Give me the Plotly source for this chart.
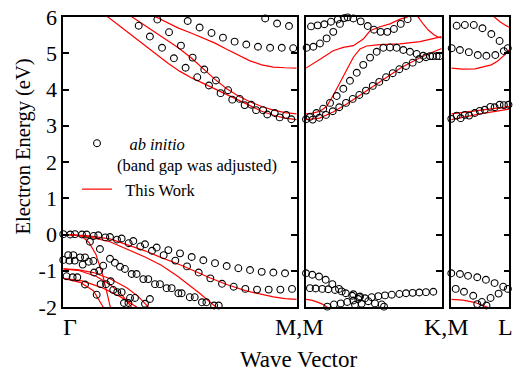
import plotly.graph_objects as go

# ---------------- data: Gamma -> M (panel 1, k normalised 0..1) ----------------
gm_ai_a_k = [0.533, 0.584, 0.635, 0.684, 0.734, 0.784, 0.834, 0.886, 0.936, 0.985]
gm_ai_a_e = [5.89, 5.71, 5.56, 5.43, 5.32, 5.24, 5.18, 5.15, 5.15, 5.14]
gm_ai_b_k = [0.865, 0.916, 0.967]
gm_ai_b_e = [5.96, 5.82, 5.75]
gm_ai_c_k = [0.323, 0.371, 0.423, 0.474, 0.524, 0.574, 0.624, 0.674, 0.724, 0.777, 0.826, 0.874, 0.927, 0.977]
gm_ai_c_e = [5.76, 5.46, 5.15, 4.86, 4.60, 4.34, 4.11, 3.90, 3.72, 3.57, 3.43, 3.31, 3.23, 3.18]
gm_ai_d_k = [0.403, 0.453, 0.504, 0.554, 0.604, 0.654, 0.706, 0.756, 0.805, 0.856, 0.906, 0.955]
gm_ai_d_e = [5.93, 5.58, 5.21, 4.88, 4.55, 4.25, 3.98, 3.74, 3.58, 3.43, 3.35, 3.30]
gm_ai_v1_k = [0.0, 0.05, 0.1, 0.15, 0.2, 0.25, 0.3, 0.35, 0.4, 0.45, 0.5, 0.55, 0.6, 0.65, 0.7, 0.75, 0.8, 0.85, 0.9, 0.95]
gm_ai_v1_e = [0.01, 0.01, 0.0, -0.02, -0.07, -0.11, -0.18, -0.27, -0.36, -0.43, -0.52, -0.62, -0.71, -0.79, -0.87, -0.93, -0.98, -1.03, -1.05, -1.07]
gm_ai_v2_k = [0.03, 0.08, 0.13, 0.18, 0.23, 0.28, 0.33, 0.38, 0.43, 0.48, 0.53, 0.58, 0.63, 0.68, 0.73, 0.78, 0.83, 0.88, 0.93, 0.98]
gm_ai_v2_e = [0.0, 0.0, -0.04, -0.08, -0.14, -0.24, -0.33, -0.45, -0.57, -0.72, -0.88, -1.05, -1.21, -1.36, -1.44, -1.50, -1.52, -1.52, -1.52, -1.50]
gm_ai_v3_k = [0.114, 0.157, 0.2, 0.243, 0.293, 0.343, 0.393, 0.443, 0.493, 0.542, 0.594, 0.646]
gm_ai_v3_e = [-0.20, -0.40, -0.67, -0.89, -1.09, -1.23, -1.37, -1.48, -1.62, -1.73, -1.87, -1.96]
gm_ai_v4_k = [0.221, 0.264, 0.314, 0.364, 0.414, 0.464, 0.507, 0.563, 0.613, 0.666]
gm_ai_v4_e = [-0.78, -0.95, -1.09, -1.23, -1.37, -1.48, -1.62, -1.73, -1.87, -1.96]
gm_ai_v5_k = [0.021, 0.043, 0.072, 0.093, 0.129, 0.171]
gm_ai_v5_e = [-0.57, -0.57, -0.63, -0.63, -0.73, -0.86]
gm_ai_v6_k = [0.0, 0.026, 0.049, 0.083, 0.109, 0.132, 0.154]
gm_ai_v6_e = [-0.70, -0.72, -0.72, -0.83, -0.75, -1.05, -1.00]
gm_ai_v7_k = [0.014, 0.04, 0.06, 0.093, 0.143]
gm_ai_v7_e = [-1.15, -1.18, -1.18, -1.38, -1.66]
gm_ai_v8_k = [0.16, 0.183, 0.203, 0.214, 0.231, 0.25, 0.26, 0.279, 0.286, 0.307, 0.35, 0.371]
gm_ai_v8_e = [-1.37, -1.37, -1.29, -1.53, -1.59, -1.59, -1.89, -1.89, -1.75, -1.75, -1.91, -1.78]

gm_tw_c1_k = [0.15, 0.193, 0.25, 0.3, 0.35, 0.4, 0.45, 0.5, 0.55, 0.6, 0.65, 0.7, 0.75, 0.8, 0.85, 0.9, 0.95, 1.0]
gm_tw_c1_e = [6.18, 5.99, 5.71, 5.46, 5.20, 4.95, 4.72, 4.50, 4.32, 4.17, 4.02, 3.86, 3.71, 3.55, 3.40, 3.29, 3.21, 3.17]
gm_tw_c2_k = [0.26, 0.297, 0.35, 0.4, 0.45, 0.491, 0.55, 0.6, 0.65, 0.7, 0.75, 0.8, 0.85, 0.9, 0.95, 1.0]
gm_tw_c2_e = [6.15, 5.99, 5.77, 5.55, 5.34, 5.16, 4.86, 4.56, 4.28, 4.02, 3.82, 3.66, 3.53, 3.43, 3.36, 3.33]
gm_tw_c3_k = [0.36, 0.4, 0.45, 0.491, 0.55, 0.6, 0.65, 0.7, 0.75, 0.8, 0.85, 0.9, 0.95, 1.0]
gm_tw_c3_e = [6.12, 5.99, 5.84, 5.70, 5.55, 5.42, 5.28, 5.11, 4.94, 4.79, 4.68, 4.62, 4.60, 4.59]
gm_tw_va_k = [0.0, 0.1, 0.2, 0.27, 0.35, 0.41, 0.51, 0.63, 0.7, 0.78, 0.85, 0.9, 0.95, 1.0]
gm_tw_va_e = [0.0, -0.03, -0.12, -0.27, -0.45, -0.61, -0.86, -1.20, -1.38, -1.55, -1.66, -1.72, -1.77, -1.79]
gm_tw_vb_k = [0.0, 0.1, 0.2, 0.27, 0.35, 0.42, 0.49, 0.58, 0.655, 0.7]
gm_tw_vb_e = [0.0, -0.05, -0.20, -0.40, -0.62, -0.85, -1.15, -1.60, -2.0, -2.25]
gm_tw_vc_k = [0.0, 0.05, 0.08, 0.11, 0.14, 0.17, 0.2, 0.21]
gm_tw_vc_e = [0.0, -0.01, -0.05, -0.22, -0.55, -1.15, -1.96, -2.25]
gm_tw_vd1_k = [0.0, 0.06, 0.129, 0.2, 0.27, 0.32, 0.364, 0.38]
gm_tw_vd1_e = [-0.95, -0.97, -1.05, -1.22, -1.46, -1.70, -2.0, -2.12]
gm_tw_vd2_k = [0.0, 0.07, 0.14, 0.2, 0.25, 0.293, 0.31]
gm_tw_vd2_e = [-0.95, -1.0, -1.15, -1.38, -1.65, -2.0, -2.15]
gm_tw_ve1_k = [0.0, 0.072, 0.129, 0.171, 0.18]
gm_tw_ve1_e = [-1.21, -1.32, -1.55, -2.0, -2.1]
gm_tw_ve2_k = [0.0, 0.08, 0.16, 0.24, 0.314, 0.33]
gm_tw_ve2_e = [-1.21, -1.28, -1.45, -1.70, -2.0, -2.1]

# ---------------- data: M -> K (panel 2) ----------------
mk_ai_a_k = [0.037, 0.086, 0.135, 0.184, 0.234, 0.282, 0.349, 0.403, 0.455, 0.501, 0.55, 0.599, 0.648, 0.698, 0.749]
mk_ai_a_e = [5.74, 5.77, 5.80, 5.87, 5.93, 5.97, 5.96, 5.88, 5.75, 5.65, 5.59, 5.59, 5.67, 5.81, 5.94]
mk_ai_b_k = [0.005, 0.054, 0.103, 0.152, 0.201, 0.25, 0.307]
mk_ai_b_e = [5.15, 5.18, 5.27, 5.41, 5.59, 5.81, 5.99]
mk_ai_c_k = [0.028, 0.077, 0.127, 0.177, 0.226, 0.275, 0.324, 0.374, 0.422, 0.472, 0.521, 0.57, 0.619, 0.668, 0.717, 0.766, 0.816, 0.864, 0.914, 0.963]
mk_ai_c_e = [3.24, 3.35, 3.47, 3.63, 3.82, 4.02, 4.24, 4.46, 4.68, 4.88, 5.04, 5.15, 5.16, 5.15, 5.09, 5.04, 4.98, 4.93, 4.92, 4.92]
mk_ai_d_k = [0.0, 0.049, 0.098, 0.147, 0.197, 0.245, 0.295, 0.344, 0.393, 0.442, 0.492, 0.54, 0.59, 0.639, 0.688, 0.737, 0.786, 0.835, 0.884, 0.934, 0.983]
mk_ai_d_e = [3.18, 3.17, 3.22, 3.30, 3.40, 3.51, 3.63, 3.74, 3.85, 3.97, 4.10, 4.21, 4.34, 4.45, 4.56, 4.65, 4.74, 4.84, 4.89, 4.92, 4.92]
mk_ai_v1_k = [0.0, 0.046, 0.096, 0.145, 0.194, 0.243, 0.293, 0.341, 0.391]
mk_ai_v1_e = [-1.07, -1.11, -1.16, -1.25, -1.37, -1.50, -1.62, -1.69, -1.73]
mk_ai_v2_k = [0.029, 0.071, 0.12, 0.164, 0.214, 0.263, 0.349, 0.398, 0.435, 0.484, 0.533, 0.582, 0.632, 0.688, 0.737, 0.786, 0.835, 0.884, 0.938]
mk_ai_v2_e = [-1.48, -1.49, -1.50, -1.51, -1.53, -1.57, -1.65, -1.71, -1.76, -1.73, -1.70, -1.68, -1.66, -1.64, -1.62, -1.61, -1.60, -1.59, -1.58]
mk_ai_v3_k = [0.157, 0.206, 0.256, 0.304, 0.349, 0.361, 0.385, 0.41, 0.459, 0.508, 0.558, 0.575]
mk_ai_v3_e = [-1.99, -1.93, -1.90, -1.86, -1.82, -1.94, -1.78, -1.91, -1.84, -1.90, -1.93, -1.99]

mk_tw_c1_k = [0.0, 0.1, 0.2, 0.3, 0.4, 0.5, 0.6, 0.7, 0.8, 0.9, 1.0]
mk_tw_c1_e = [3.17, 3.21, 3.38, 3.60, 3.85, 4.10, 4.36, 4.60, 4.80, 4.98, 5.13]
mk_tw_c2_k = [0.0, 0.05, 0.103, 0.152, 0.201, 0.25, 0.3, 0.349, 0.398, 0.447, 0.545, 0.693, 0.84, 0.975, 1.0]
mk_tw_c2_e = [3.33, 3.35, 3.40, 3.53, 3.84, 4.18, 4.52, 4.89, 5.12, 5.20, 5.24, 5.26, 5.32, 5.44, 5.46]
mk_tw_c3_k = [0.0, 0.054, 0.127, 0.2, 0.275, 0.349, 0.422, 0.472, 0.545, 0.619, 0.693, 0.742, 0.78]
mk_tw_c3_e = [4.59, 4.71, 4.89, 5.07, 5.16, 5.21, 5.39, 5.62, 5.73, 5.81, 5.94, 5.99, 6.10]
mk_tw_c4_k = [0.8, 0.828, 0.865, 0.901, 0.94, 0.975, 1.0]
mk_tw_c4_e = [6.08, 5.99, 5.80, 5.64, 5.52, 5.44, 5.42]
mk_tw_v_k = [0.0, 0.04, 0.08, 0.12, 0.155, 0.19]
mk_tw_v_e = [-1.79, -1.81, -1.86, -1.92, -2.0, -2.1]

# ---------------- data: M -> L (panel 3) ----------------
ml_ai_a_k = [0.093, 0.235, 0.39, 0.54, 0.694, 0.837, 0.979]
ml_ai_a_e = [5.76, 5.78, 5.78, 5.69, 5.53, 5.34, 5.14]
ml_ai_b_k = [0.007, 0.149, 0.304, 0.459, 0.608, 0.763, 0.911]
ml_ai_b_e = [5.14, 5.09, 5.03, 4.95, 4.93, 4.95, 5.06]
ml_ai_c_k = [0.0, 0.162, 0.309, 0.407, 0.579, 0.751, 0.911]
ml_ai_c_e = [3.19, 3.21, 3.28, 3.35, 3.44, 3.51, 3.57]
ml_ai_d_k = [0.093, 0.235, 0.493, 0.677, 0.837, 0.991]
ml_ai_d_e = [3.28, 3.30, 3.41, 3.52, 3.58, 3.58]
ml_ai_v1_k = [0.0, 0.15, 0.29, 0.45, 0.6, 0.75, 0.9, 0.98]
ml_ai_v1_e = [-1.07, -1.09, -1.14, -1.18, -1.25, -1.34, -1.44, -1.50]
ml_ai_v2_k = [0.076, 0.22, 0.38, 0.53, 0.61]
ml_ai_v2_e = [-1.50, -1.58, -1.69, -1.86, -1.96]
ml_ai_v3_k = [0.45, 0.68, 0.82]
ml_ai_v3_e = [-1.92, -1.75, -1.63]

ml_tw_c1_k = [0.0, 0.2, 0.41, 0.55, 0.694, 0.8, 0.866, 0.93, 1.0]
ml_tw_c1_e = [4.59, 4.56, 4.57, 4.62, 4.68, 4.78, 4.86, 4.96, 5.09]
ml_tw_c2_k = [0.7, 0.751, 0.85, 0.93, 1.0]
ml_tw_c2_e = [6.06, 5.99, 5.86, 5.78, 5.72]
ml_tw_c3_k = [0.0, 0.5, 1.0]
ml_tw_c3_e = [3.17, 3.33, 3.46]
ml_tw_c4_k = [0.0, 0.5, 1.0]
ml_tw_c4_e = [3.33, 3.43, 3.53]
ml_tw_v_k = [0.0, 0.2, 0.4, 0.6, 0.7]
ml_tw_v_e = [-1.79, -1.81, -1.87, -1.98, -2.05]

y_ticks = [-2, -1, 0, 1, 2, 3, 4, 5, 6]
y_tick_text = ["-2", "-1", "0", "1", "2", "3", "4", "5", "6"]
k_labels = ["\u0393", "M,M", "K,M", "L"]

# ---------------- figure ----------------
W, H = 513, 372
ML, MR, MT, MB = 63, 3, 17, 65
PW, PH = W - ML - MR, H - MT - MB
FONT = "Liberation Serif"


def px_x(p):
    return (p - ML) / PW


def px_y(p):
    return (H - MB - p) / PH


panels = {
    1: dict(ai=[(gm_ai_a_k, gm_ai_a_e), (gm_ai_b_k, gm_ai_b_e), (gm_ai_c_k, gm_ai_c_e), (gm_ai_d_k, gm_ai_d_e),
                (gm_ai_v1_k, gm_ai_v1_e), (gm_ai_v2_k, gm_ai_v2_e), (gm_ai_v3_k, gm_ai_v3_e), (gm_ai_v4_k, gm_ai_v4_e),
                (gm_ai_v5_k, gm_ai_v5_e), (gm_ai_v6_k, gm_ai_v6_e), (gm_ai_v7_k, gm_ai_v7_e), (gm_ai_v8_k, gm_ai_v8_e)],
            tw=[(gm_tw_c1_k, gm_tw_c1_e), (gm_tw_c2_k, gm_tw_c2_e), (gm_tw_c3_k, gm_tw_c3_e),
                (gm_tw_va_k, gm_tw_va_e), (gm_tw_vb_k, gm_tw_vb_e), (gm_tw_vc_k, gm_tw_vc_e),
                (gm_tw_vd1_k, gm_tw_vd1_e), (gm_tw_vd2_k, gm_tw_vd2_e), (gm_tw_ve1_k, gm_tw_ve1_e), (gm_tw_ve2_k, gm_tw_ve2_e)]),
    2: dict(ai=[(mk_ai_a_k, mk_ai_a_e), (mk_ai_b_k, mk_ai_b_e), (mk_ai_c_k, mk_ai_c_e), (mk_ai_d_k, mk_ai_d_e),
                (mk_ai_v1_k, mk_ai_v1_e), (mk_ai_v2_k, mk_ai_v2_e), (mk_ai_v3_k, mk_ai_v3_e)],
            tw=[(mk_tw_c1_k, mk_tw_c1_e), (mk_tw_c2_k, mk_tw_c2_e), (mk_tw_c3_k, mk_tw_c3_e), (mk_tw_c4_k, mk_tw_c4_e),
                (mk_tw_v_k, mk_tw_v_e)]),
    3: dict(ai=[(ml_ai_a_k, ml_ai_a_e), (ml_ai_b_k, ml_ai_b_e), (ml_ai_c_k, ml_ai_c_e), (ml_ai_d_k, ml_ai_d_e),
                (ml_ai_v1_k, ml_ai_v1_e), (ml_ai_v2_k, ml_ai_v2_e), (ml_ai_v3_k, ml_ai_v3_e)],
            tw=[(ml_tw_c1_k, ml_tw_c1_e), (ml_tw_c2_k, ml_tw_c2_e), (ml_tw_c3_k, ml_tw_c3_e), (ml_tw_c4_k, ml_tw_c4_e),
                (ml_tw_v_k, ml_tw_v_e)]),
}

fig = go.Figure()
first_ai, first_tw = True, True
for p in (1, 2, 3):
    xa = "x" if p == 1 else f"x{p}"
    ya = "y" if p == 1 else f"y{p}"
    for k, e in panels[p]["tw"]:
        fig.add_trace(go.Scatter(x=k, y=e, mode="lines", xaxis=xa, yaxis=ya,
                                 line=dict(color="#ff0000", width=1.2),
                                 name="\u00a0\u00a0This Work", legendrank=2,
                                 showlegend=first_tw, hoverinfo="skip"))
        first_tw = False
    for k, e in panels[p]["ai"]:
        fig.add_trace(go.Scatter(x=k, y=e, mode="markers", xaxis=xa, yaxis=ya, cliponaxis=False,
                                 marker=dict(symbol="circle-open", size=6.8, color="black",
                                             line=dict(width=1.1, color="black")),
                                 name="\u00a0\u00a0\u00a0<i>ab initio</i><br>(band gap was adjusted)",
                                 legendrank=1, showlegend=first_ai, hoverinfo="skip"))
        first_ai = False

doms = {1: (63.3, 296.7), 2: (306.0, 441.7), 3: (451.3, 509.0)}
for p in (1, 2, 3):
    d = [px_x(doms[p][0]), px_x(doms[p][1])]
    xkey = "xaxis" if p == 1 else f"xaxis{p}"
    ykey = "yaxis" if p == 1 else f"yaxis{p}"
    fig.layout[xkey] = dict(domain=d, range=[0, 1], showline=True, mirror=True, linecolor="black",
                            linewidth=2, ticks="", showticklabels=False, showgrid=False, zeroline=False,
                            fixedrange=True)
    yconf = dict(range=[-2, 6], showline=True, linecolor="black", linewidth=2, showgrid=False,
                 zeroline=False, ticks="inside", ticklen=5.5, tickwidth=1.5, tickcolor="black",
                 tickvals=y_ticks, ticktext=y_tick_text, domain=[0, 1], fixedrange=True)
    if p == 1:
        yconf.update(mirror="ticks", showticklabels=True,
                     tickfont=dict(family=FONT, size=22, color="black"))
    else:
        yconf.update(mirror=True, side="right", showticklabels=False, anchor=xkey.replace("axis", ""))
    fig.layout[ykey] = yconf
fig.layout.xaxis2.anchor = "y2"
fig.layout.xaxis3.anchor = "y3"

annots = []
for txt, xc in zip(k_labels, [70, 299.5, 446.5, 505]):
    annots.append(dict(text=txt, x=px_x(xc), y=px_y(327), xref="paper", yref="paper",
                       showarrow=False, xanchor="center", yanchor="middle",
                       font=dict(family=FONT, size=24, color="black")))
annots.append(dict(text="Wave Vector", x=px_x(298), y=px_y(359.5), xref="paper", yref="paper",
                   showarrow=False, xanchor="center", yanchor="middle",
                   font=dict(family=FONT, size=23, color="black")))
annots.append(dict(text="Electron Energy (eV)", x=px_x(22.5), y=px_y(147), xref="paper", yref="paper",
                   showarrow=False, xanchor="center", yanchor="middle", textangle=-90,
                   font=dict(family=FONT, size=20.5, color="black")))

fig.update_layout(
    width=W, height=H, margin=dict(l=ML, r=MR, t=MT, b=MB, pad=0),
    plot_bgcolor="white", paper_bgcolor="white",
    font=dict(family=FONT, color="black"),
    annotations=annots,
    legend=dict(x=px_x(77), y=px_y(126), xanchor="left", yanchor="top",
                bgcolor="rgba(0,0,0,0)", borderwidth=0, valign="top",
                font=dict(family=FONT, size=16.5, color="black"), tracegroupgap=0),
)

fig.write_html("out.html")
